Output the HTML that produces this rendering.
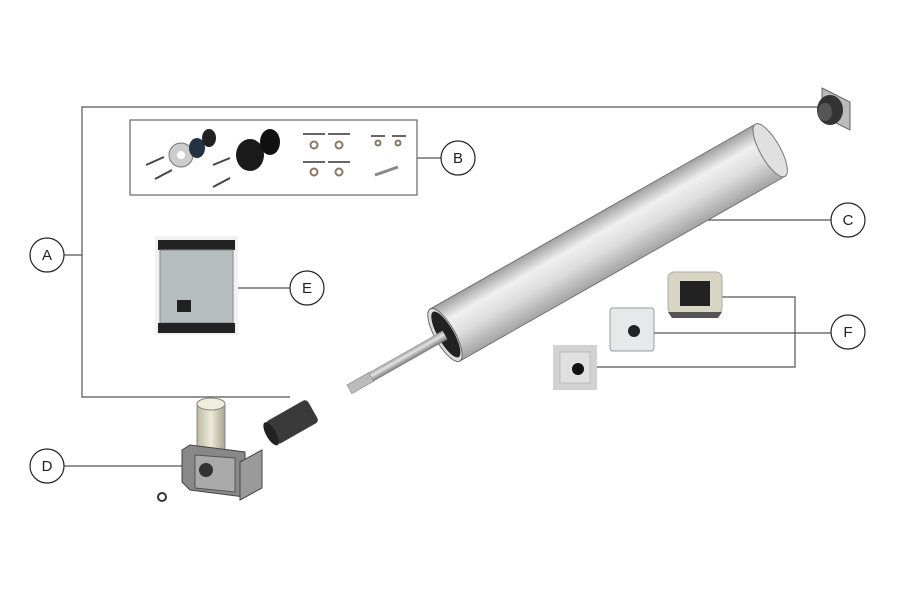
<!DOCTYPE html>
<html><head><style>html,body{margin:0;padding:0;background:#fff}svg{display:block}
text{font-family:"Liberation Sans",sans-serif;font-size:15px;fill:#222}</style></head><body>
<svg width="900" height="600" viewBox="0 0 900 600" xmlns="http://www.w3.org/2000/svg">
<defs>
<linearGradient id="tube" x1="0" y1="0" x2="0" y2="1">
<stop offset="0" stop-color="#a0a0a0"/><stop offset="0.3" stop-color="#f0f0f0"/><stop offset="0.6" stop-color="#dcdcdc"/><stop offset="1" stop-color="#a4a4a4"/></linearGradient>
<linearGradient id="shaft" x1="0" y1="0" x2="0" y2="1"><stop offset="0" stop-color="#999"/><stop offset="0.4" stop-color="#e4e4e4"/><stop offset="1" stop-color="#777"/></linearGradient>
<linearGradient id="cyl" x1="0" x2="1"><stop offset="0" stop-color="#bdb9a0"/><stop offset="0.5" stop-color="#ecead8"/><stop offset="1" stop-color="#a8a590"/></linearGradient>
</defs>
<g stroke="#555" stroke-width="1.2" fill="none">
<polyline points="64,255 82,255"/>
<polyline points="820,107 82,107 82,397 290,397"/>
<line x1="417" y1="158" x2="441" y2="158"/>
<line x1="700" y1="220" x2="831" y2="220"/>
<line x1="238" y1="288" x2="290" y2="288"/>
<line x1="64" y1="466" x2="182" y2="466"/>
<polyline points="722,297 795,297 795,367 594,367"/>
<line x1="653" y1="333" x2="831" y2="333"/>
<rect x="130" y="120" width="287" height="75" stroke="#666"/>
</g>
<g fill="#fff" stroke="#222" stroke-width="1.2">
<circle cx="47" cy="255" r="17"/><circle cx="458" cy="158" r="17"/><circle cx="848" cy="220" r="17"/>
<circle cx="307" cy="288" r="17"/><circle cx="47" cy="466" r="17"/><circle cx="848" cy="332" r="17"/>
</g>
<g text-anchor="middle">
<text x="47" y="260">A</text><text x="458" y="163">B</text><text x="848" y="225">C</text>
<text x="307" y="293">E</text><text x="47" y="471">D</text><text x="848" y="337">F</text></g>
<g>
<circle cx="181" cy="155" r="12" fill="#ccc" stroke="#777"/><circle cx="181" cy="155" r="4" fill="#fff"/>
<ellipse cx="197" cy="148" rx="8" ry="10" fill="#234"/><ellipse cx="209" cy="138" rx="7" ry="9" fill="#222"/>
<line x1="146" y1="165" x2="164" y2="157" stroke="#444" stroke-width="2"/><line x1="155" y1="179" x2="172" y2="170" stroke="#444" stroke-width="2"/>
<ellipse cx="250" cy="155" rx="14" ry="16" fill="#1a1a1a"/><ellipse cx="270" cy="142" rx="10" ry="13" fill="#111"/>
<line x1="213" y1="165" x2="230" y2="158" stroke="#444" stroke-width="2"/><line x1="213" y1="187" x2="230" y2="178" stroke="#444" stroke-width="2"/>
<g stroke="#333" stroke-width="1.5"><line x1="303" y1="134" x2="325" y2="134"/><line x1="328" y1="134" x2="350" y2="134"/><line x1="303" y1="162" x2="325" y2="162"/><line x1="328" y1="162" x2="350" y2="162"/><line x1="371" y1="136" x2="385" y2="136"/><line x1="392" y1="136" x2="406" y2="136"/></g>
<g fill="none" stroke="#876" stroke-width="2"><circle cx="314" cy="145" r="3.5"/><circle cx="339" cy="145" r="3.5"/><circle cx="314" cy="172" r="3.5"/><circle cx="339" cy="172" r="3.5"/><circle cx="378" cy="143" r="2.5"/><circle cx="398" cy="143" r="2.5"/></g>
<line x1="375" y1="175" x2="398" y2="167" stroke="#888" stroke-width="3"/>
</g>
<polygon points="822,88 850,102 850,130 822,116" fill="#bbb" stroke="#666"/>
<ellipse cx="830" cy="110" rx="13" ry="15" fill="#333"/><ellipse cx="825" cy="112" rx="7" ry="9" fill="#555"/>
<g transform="translate(445,335) rotate(-29.6)">
<rect x="0" y="-30" width="374" height="60" fill="url(#tube)" stroke="#666" stroke-width="0.8"/>
<ellipse cx="374" cy="0" rx="10" ry="30" fill="#e0e0e0" stroke="#777"/>
<ellipse cx="0" cy="0" rx="10" ry="30" fill="#ddd" stroke="#666"/>
<ellipse cx="1" cy="0" rx="8" ry="26" fill="#222"/>
<rect x="-110" y="-5" width="110" height="10" fill="url(#shaft)"/>
<rect x="-110" y="-5" width="25" height="10" fill="#bbb" stroke="#777" stroke-width="0.5"/>
<rect x="-200" y="-13" width="48" height="26" rx="4" fill="#3a3a3a"/>
<ellipse cx="-200" cy="0" rx="5" ry="13" fill="#222"/>
</g>
<rect x="155" y="236" width="83" height="99" fill="#f1f1f1"/>
<rect x="158" y="240" width="77" height="10" fill="#222"/>
<rect x="160" y="250" width="73" height="73" fill="#b6bdbf" stroke="#888"/>
<rect x="158" y="323" width="77" height="10" fill="#222"/>
<rect x="177" y="300" width="14" height="12" fill="#222"/>
<rect x="197" y="404" width="28" height="46" fill="url(#cyl)" stroke="#888"/>
<ellipse cx="211" cy="404" rx="14" ry="6" fill="#eeeedd" stroke="#888"/>
<polygon points="182,450 190,445 245,452 245,497 190,490 182,482" fill="#888" stroke="#444"/>
<polygon points="195,455 235,458 235,492 195,488" fill="#aaa" stroke="#555"/>
<polygon points="240,462 262,450 262,488 240,500" fill="#9a9a9a" stroke="#444"/>
<circle cx="206" cy="470" r="7" fill="#333"/>
<circle cx="162" cy="497" r="4" fill="none" stroke="#333" stroke-width="2"/>
<rect x="668" y="272" width="54" height="42" rx="6" fill="#d9d5c4" stroke="#aaa"/>
<rect x="680" y="281" width="30" height="25" fill="#222"/>
<path d="M668,312 L722,312 L718,318 L672,318 Z" fill="#555"/>
<rect x="610" y="308" width="44" height="43" rx="3" fill="#e6e8ea" stroke="#999"/>
<circle cx="634" cy="331" r="6" fill="#222"/>
<rect x="553" y="345" width="44" height="45" fill="#d2d2d2"/>
<rect x="560" y="352" width="30" height="31" fill="#e0e0e0" stroke="#bbb"/>
<circle cx="578" cy="369" r="6" fill="#111"/>
</svg>
</body></html>
